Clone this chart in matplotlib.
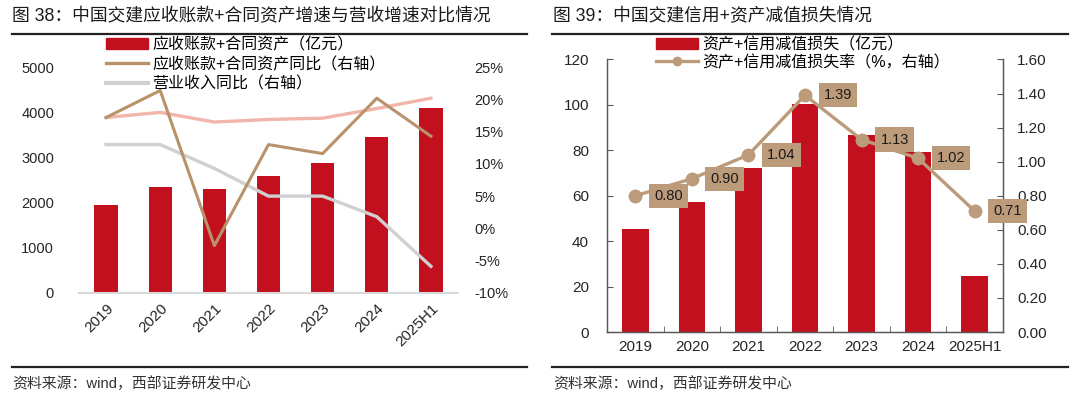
import matplotlib
matplotlib.use('Agg')
import matplotlib.pyplot as plt
from matplotlib.lines import Line2D
from matplotlib.patches import Patch
from matplotlib.ticker import FuncFormatter, FixedLocator
import numpy as np

plt.rcParams['font.family'] = ['Liberation Sans', 'Noto Sans CJK SC']

# ---------------- data ----------------
categories = ['2019', '2020', '2021', '2022', '2023', '2024', '2025H1']
receivables = [1940, 2350, 2290, 2585, 2880, 3460, 4095]          # 亿元
receivables_yoy = [17.2, 21.4, -2.7, 13.0, 11.6, 20.2, 14.3]      # %
revenue_yoy = [13.0, 13.0, 9.3, 5.0, 5.0, 1.8, -5.9]              # %
extra_line = [17.2, 18.0, 16.5, 16.9, 17.1, 18.6, 20.2]           # % (unlabelled pink line)

impairment = [45.2, 57.2, 72.2, 100.6, 86.7, 79.4, 24.8]          # 亿元
impairment_rate = [0.80, 0.90, 1.04, 1.39, 1.13, 1.02, 0.71]      # %

left_title = '图 38：中国交建应收账款+合同资产增速与营收增速对比情况'
right_title = '图 39：中国交建信用+资产减值损失情况'
source = '资料来源：wind，西部证券研发中心'
left_labels = ['应收账款+合同资产（亿元）', '应收账款+合同资产同比（右轴）', '营业收入同比（右轴）']
right_labels = ['资产+信用减值损失（亿元）', '资产+信用减值损失率（%，右轴）']

RED = '#c3101e'
BROWN = '#b9926c'
GRAY = '#d0d0d0'
PINK = '#f1b5aa'
TAN = '#bc9b7b'
TXT = '#262626'

W, H = 1080, 399
fig = plt.figure(figsize=(W / 100, H / 100), dpi=100)

def fx(px):
    return px / W

def fy(py):
    return 1 - py / H

# ---------------- left chart ----------------
x = np.arange(len(categories))
ax1 = fig.add_axes([fx(79), fy(292.7), fx(458 - 79), (292.7 - 67.3) / H])
ax1.bar(x, receivables, width=0.43, color=RED, zorder=2)
ax1.set_xlim(-0.5, len(categories) - 0.5)
ax1.set_ylim(0, 5000)
ax1.set_yticks(range(0, 5001, 1000))
ax1.set_xticks(x)
ax1.set_xticklabels(categories, rotation=45, ha='right', rotation_mode='anchor')
for s in ['top', 'right', 'left']:
    ax1.spines[s].set_visible(False)
ax1.spines['bottom'].set_color('#d9d9d9')
ax1.spines['bottom'].set_linewidth(1.5)
ax1.tick_params(axis='both', length=0, labelsize=10.5, colors=TXT)
ax1.tick_params(axis='x', labelsize=11, pad=6)
ax1.tick_params(axis='y', pad=18)

ax2 = ax1.twinx()
ax2.plot(x, extra_line, color=PINK, lw=2.4, zorder=1)
ax2.plot(x, revenue_yoy, color=GRAY, lw=2.4, zorder=2)
ax2.plot(x, receivables_yoy, color=BROWN, lw=2.2, zorder=3)
ax2.set_ylim(-10, 25)
ax2.set_yticks(range(-10, 26, 5))
ax2.yaxis.set_major_formatter(FuncFormatter(lambda v, p: f'{v:.0f}%'))
for s in ax2.spines.values():
    s.set_visible(False)
ax2.tick_params(axis='y', length=0, labelsize=10.5, colors=TXT, pad=12)

h1 = [Patch(color=RED),
      Line2D([0], [0], color=BROWN, lw=2.4),
      Line2D([0], [0], color=GRAY, lw=3)]
fig.legend(h1, left_labels, loc='upper left', bbox_to_anchor=(fx(106), fy(37)),
           frameon=False, fontsize=11.5, borderpad=0, borderaxespad=0,
           handlelength=2.6, handleheight=0.7, handletextpad=0.3, labelspacing=0.27)

# ---------------- right chart ----------------
ax3 = fig.add_axes([fx(607), fy(332), fx(1003 - 607), (332 - 59.5) / H])
ax3.bar(x, impairment, width=0.47, color=RED, zorder=2)
ax3.set_xlim(-0.5, len(categories) - 0.5)
ax3.set_ylim(0, 120)
ax3.set_yticks(range(0, 121, 20))
ax3.set_xticks(x)
ax3.set_xticklabels(categories)
ax3.xaxis.set_minor_locator(FixedLocator(np.arange(0.5, len(categories) - 1, 1)))
ax3.spines['top'].set_visible(False)
for s in ['left', 'right', 'bottom']:
    ax3.spines[s].set_color('#595959')
    ax3.spines[s].set_linewidth(1)
ax3.tick_params(axis='x', which='major', length=0, labelsize=11, colors=TXT, pad=6)
ax3.tick_params(axis='x', which='minor', direction='in', length=4, color='#595959')
ax3.tick_params(axis='y', direction='in', length=4, color='#595959', labelsize=11,
                labelcolor=TXT, pad=13)

ax4 = ax3.twinx()
ax4.plot(x, impairment_rate, color=TAN, lw=2.4, marker='o', markersize=9,
         markerfacecolor=TAN, markeredgecolor=TAN, zorder=3)
ax4.set_ylim(0, 1.6)
ax4.set_yticks(np.arange(0, 1.61, 0.2))
ax4.yaxis.set_major_formatter(FuncFormatter(lambda v, p: f'{v:.2f}'))
ax4.spines['top'].set_visible(False)
for s in ['left', 'right', 'bottom']:
    ax4.spines[s].set_color('#595959')
ax4.tick_params(axis='y', direction='in', length=4, color='#595959', labelsize=11,
                labelcolor=TXT, pad=10)
for i, v in enumerate(impairment_rate):
    ax4.annotate(f'{v:.2f}', (x[i], v), xytext=(33, 0), textcoords='offset pixels',
                 ha='center', va='center', fontsize=10.5, color='#1a1a1a', zorder=5,
                 bbox=dict(boxstyle='square,pad=0.35', fc=TAN, ec='none'))

h2 = [Patch(color=RED),
      Line2D([0], [0], color=TAN, lw=2.4, marker='o', markersize=6)]
fig.legend(h2, right_labels, loc='upper left', bbox_to_anchor=(fx(656), fy(37)),
           frameon=False, fontsize=11.5, borderpad=0, borderaxespad=0,
           handlelength=2.6, handleheight=0.7, handletextpad=0.3, labelspacing=0.15)

# ---------------- titles, rules, source ----------------
fig.text(fx(12), fy(17), left_title, fontsize=12.8, color='#1a1a1a', va='center', ha='left')
fig.text(fx(553), fy(17), right_title, fontsize=12.8, color='#1a1a1a', va='center', ha='left')
for x0, x1 in [(12, 527), (552, 1068)]:
    fig.add_artist(Line2D([fx(x0), fx(x1)], [fy(34), fy(34)], color='#222222', lw=1.6))
    fig.add_artist(Line2D([fx(x0), fx(x1)], [fy(366.5), fy(366.5)], color='#222222', lw=1.6))
fig.text(fx(12), fy(384), source, fontsize=10.7, color='#333333', va='center', ha='left')
fig.text(fx(553), fy(384), source, fontsize=10.7, color='#333333', va='center', ha='left')

fig.savefig('out.png', dpi=100)
